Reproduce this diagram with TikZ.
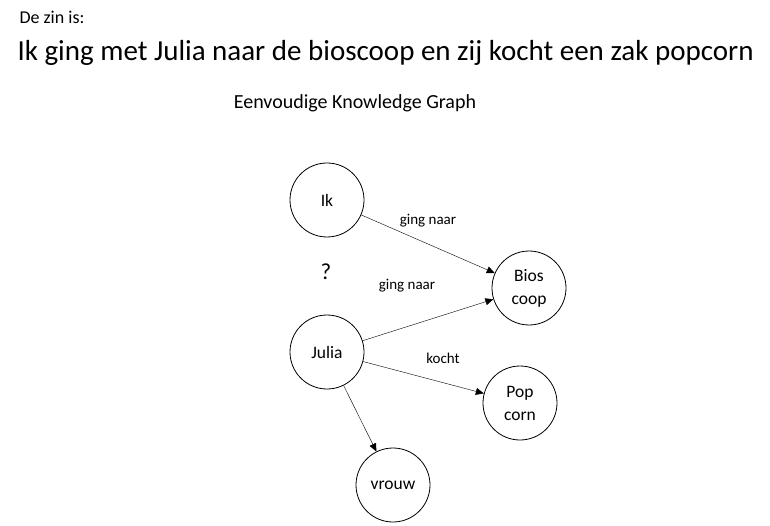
\documentclass[tikz,border=0pt]{standalone}
\usepackage{fontspec}
\setmainfont{Carlito}
\usetikzlibrary{arrows.meta}
\begin{document}
\begin{tikzpicture}[x=1pt,y=-1pt,
  ent/.style={circle,draw,thick,minimum size=74pt,inner sep=0pt,align=center,font=\fontsize{17.5}{23}\selectfont},
  rel/.style={-{Triangle[length=8pt,width=7pt]},thin},
  lbl/.style={font=\fontsize{15}{18}\selectfont}]
\useasboundingbox (0,0) rectangle (770,526);
\node[anchor=west,font=\fontsize{18}{21}\selectfont] (t1) at (16,17) {De zin is:};
\node[anchor=west,font=\fontsize{29}{34}\selectfont] (t2) at (14,53) {Ik ging met Julia naar de bioscoop en zij kocht een zak popcorn};
\node[font=\fontsize{20}{24}\selectfont] (t3) at (355,103) {Eenvoudige Knowledge Graph};
\node[ent] (ik) at (327,200) {Ik};
\node[ent] (bios) at (529,288) {Bios\\coop};
\node[ent] (julia) at (327,352) {Julia};
\node[ent] (pop) at (520,403) {Pop\\corn};
\node[ent] (vrouw) at (393,485) {vrouw};
\node[font=\fontsize{23}{27}\selectfont] (q) at (326,272) {?};
\draw[rel] (ik) -- (bios);
\draw[rel] (julia) -- (bios);
\draw[rel] (julia) -- (pop);
\draw[rel] (julia) -- (vrouw);
\node[lbl] (l1) at (428,221) {ging naar};
\node[lbl] (l2) at (407,286) {ging naar};
\node[lbl] (l3) at (443,358) {kocht};
\end{tikzpicture}
\end{document}
